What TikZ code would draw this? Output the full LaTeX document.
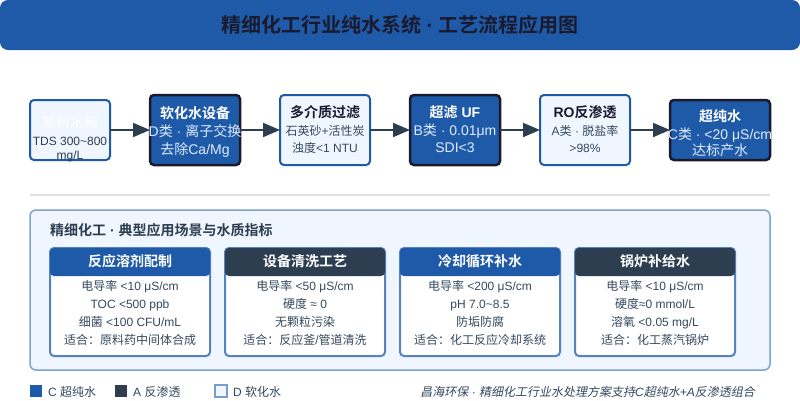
\documentclass[tikz,border=0pt]{standalone}
\usepackage{fontspec}
\setmainfont{Liberation Sans}
\newfontfamily\cjkfont[ItalicFont={Noto Sans CJK SC},ItalicFeatures={FakeSlant=0.2},BoldItalicFont={Noto Sans CJK SC Bold},BoldFont={Noto Sans CJK SC Bold}]{Noto Sans CJK SC}
\newcommand{\C}[1]{{\cjkfont #1}}
\usetikzlibrary{arrows.meta}
\definecolor{blueM}{HTML}{1E5AA8}
\definecolor{darkM}{HTML}{2C3E50}
\definecolor{inkM}{HTML}{1A1A2E}
\definecolor{paleM}{HTML}{F0F6FF}
\definecolor{softM}{HTML}{E0ECFF}
\definecolor{subM}{HTML}{34495E}
\definecolor{frameM}{HTML}{7FA3D1}
\newcommand{\fsz}[1]{\fontsize{#1}{#1}\selectfont}
\tikzset{
 x=1pt,y=-1pt,
 box/.style={rectangle,rounded corners=4pt,inner sep=0pt,outer sep=0pt,anchor=north west},
 lightbox/.style={box,draw=blueM,line width=2pt,fill=paleM},
 darkbox/.style={box,draw=inkM,line width=2.5pt,fill=blueM},
 flow/.style={draw=darkM,line width=2pt,-{Triangle[length=17pt,width=14pt]},shorten >=0pt},
 txt/.style={inner sep=0pt,anchor=center},
 fixline/.style={txt,text height=10pt,text depth=2pt},
 ttl/.style={fixline,font=\fsz{14}\bfseries},
 subt/.style={fixline,font=\fsz{14}},
 subs/.style={fixline,font=\fsz{12}},
 card/.style={box,draw=blueM!75!white,line width=2pt,fill=white,minimum width=160pt,minimum height=108pt},
 hdr/.style={box,minimum width=160pt,minimum height=28pt},
 cardline/.style={fixline,font=\fsz{12},text=subM},
 legend/.style={inner sep=0pt,anchor=west,font=\fsz{12},text=subM},
}
\begin{document}
\begin{tikzpicture}
\useasboundingbox (0,0) rectangle (800,400);
\fill[white] (0,0) rectangle (800,400);
% title band
\node[box,rounded corners=8pt,fill=blueM,minimum width=800pt,minimum height=50pt] (band) at (0,0) {};
\node[txt,font=\fsz{20}\bfseries,text=inkM] (title) at (400,25) {\C{精细化工行业纯水系统} · \C{工艺流程应用图}};
% flow boxes
\node[lightbox,minimum width=80pt,minimum height=60pt] (b1) at (30,100) {};
\node[darkbox,minimum width=90pt,minimum height=70pt] (b2) at (150,95) {};
\node[lightbox,minimum width=90pt,minimum height=70pt] (b3) at (280,95) {};
\node[darkbox,minimum width=90pt,minimum height=70pt] (b4) at (410,95) {};
\node[lightbox,minimum width=90pt,minimum height=70pt] (b5) at (540,95) {};
\node[darkbox,minimum width=100pt,minimum height=60pt] (b6) at (670,100) {};
\draw[flow] (b1) -- (b2);
\draw[flow] (b2) -- (b3);
\draw[flow] (b3) -- (b4);
\draw[flow] (b4) -- (b5);
\draw[flow] (b5) -- (b6);
% flow texts
\node[ttl,font=\fsz{14},text=white] (t1a) at (70,123) {\C{原料水箱}};
\node[subs,text=darkM] (t1b) at (70,141) {TDS 300\textasciitilde800};
\node[subs,text=darkM] (t1c) at (70,155) {mg/L};
\node[ttl,text=white] (t2a) at (195,114) {\C{软化水设备}};
\node[subt,text=softM] (t2b) at (195,132) {D\C{类} · \C{离子交换}};
\node[subt,text=softM] (t2c) at (195,150) {\C{去除}Ca/Mg};
\node[ttl,text=inkM] (t3a) at (325,113) {\C{多介质过滤}};
\node[subs,text=subM] (t3b) at (325,131) {\C{石英砂}+\C{活性炭}};
\node[subs,text=subM] (t3c) at (325,148) {\C{浊度}<1 NTU};
\node[ttl,text=white] (t4a) at (455,113) {\C{超滤} UF};
\node[subt,text=softM] (t4b) at (455,131) {B\C{类} · 0.01μm};
\node[subt,text=softM] (t4c) at (455,148) {SDI<3};
\node[ttl,text=inkM] (t5a) at (585,113) {RO\C{反渗透}};
\node[subs,text=subM] (t5b) at (585,131) {A\C{类} · \C{脱盐率}};
\node[subs,text=subM] (t5c) at (585,148) {>98\%};
\node[ttl,text=white] (t6a) at (720,117) {\C{超纯水}};
\node[subt,text=softM] (t6b) at (720,135) {C\C{类} · <20 μS/cm};
\node[subt,text=softM] (t6c) at (720,151) {\C{达标产水}};
% separator
\coordinate (sepL) at (30,195);
\coordinate (sepR) at (770,195);
\draw[draw=black!12,line width=2pt] (sepL) -- (sepR);
% panel
\node[box,draw=frameM,line width=1.5pt,fill=paleM,rounded corners=6pt,minimum width=740pt,minimum height=160pt] (panel) at (30,210) {};
\node[inner sep=0pt,anchor=west,font=\fsz{14}\bfseries,text=darkM] (ptitle) at (50,230) {\C{精细化工} · \C{典型应用场景与水质指标}};
% cards
\node[card] (c1) at (50,248) {};
\node[hdr,fill=blueM] (h1) at (50,248) {};
\node[ttl,text=white] at (130,262) {\C{反应溶剂配制}};
\node[cardline] at (130,286) {\C{电导率} <10 μS/cm};
\node[cardline] at (130,304) {TOC <500 ppb};
\node[cardline] at (130,322) {\C{细菌} <100 CFU/mL};
\node[cardline] at (130,340) {\C{适合：原料药中间体合成}};
\node[card] (c2) at (225,248) {};
\node[hdr,fill=darkM] (h2) at (225,248) {};
\node[ttl,text=white] at (305,262) {\C{设备清洗工艺}};
\node[cardline] at (305,286) {\C{电导率} <50 μS/cm};
\node[cardline] at (305,304) {\C{硬度} ≈ 0};
\node[cardline] at (305,322) {\C{无颗粒污染}};
\node[cardline] at (305,340) {\C{适合：反应釜}/\C{管道清洗}};
\node[card] (c3) at (400,248) {};
\node[hdr,fill=blueM] (h3) at (400,248) {};
\node[ttl,text=white] at (480,262) {\C{冷却循环补水}};
\node[cardline] at (480,286) {\C{电导率} <200 μS/cm};
\node[cardline] at (480,304) {pH 7.0\textasciitilde8.5};
\node[cardline] at (480,322) {\C{防垢防腐}};
\node[cardline] at (480,340) {\C{适合：化工反应冷却系统}};
\node[card] (c4) at (575,248) {};
\node[hdr,fill=darkM] (h4) at (575,248) {};
\node[ttl,text=white] at (655,262) {\C{锅炉补给水}};
\node[cardline] at (655,286) {\C{电导率} <10 μS/cm};
\node[cardline] at (655,304) {\C{硬度}≈0 mmol/L};
\node[cardline] at (655,322) {\C{溶氧} <0.05 mg/L};
\node[cardline] at (655,340) {\C{适合：化工蒸汽锅炉}};
% legend
\fill[blueM] (30,385) rectangle (42,397);
\node[legend] at (48,392) {C \C{超纯水}};
\fill[darkM] (115,385) rectangle (127,397);
\node[legend] at (133,392) {A \C{反渗透}};
\draw[blueM!60!white,fill=paleM,line width=1.5pt] (215,385) rectangle (227,397);
\node[legend] at (233,392) {D \C{软化水}};
\node[inner sep=0pt,anchor=east,font=\fsz{12}\itshape,text=subM] (foot) at (755,392) {\C{昌海环保} · \C{精细化工行业水处理方案支持}C\C{超纯水}+A\C{反渗透组合}};
\end{tikzpicture}
\end{document}
